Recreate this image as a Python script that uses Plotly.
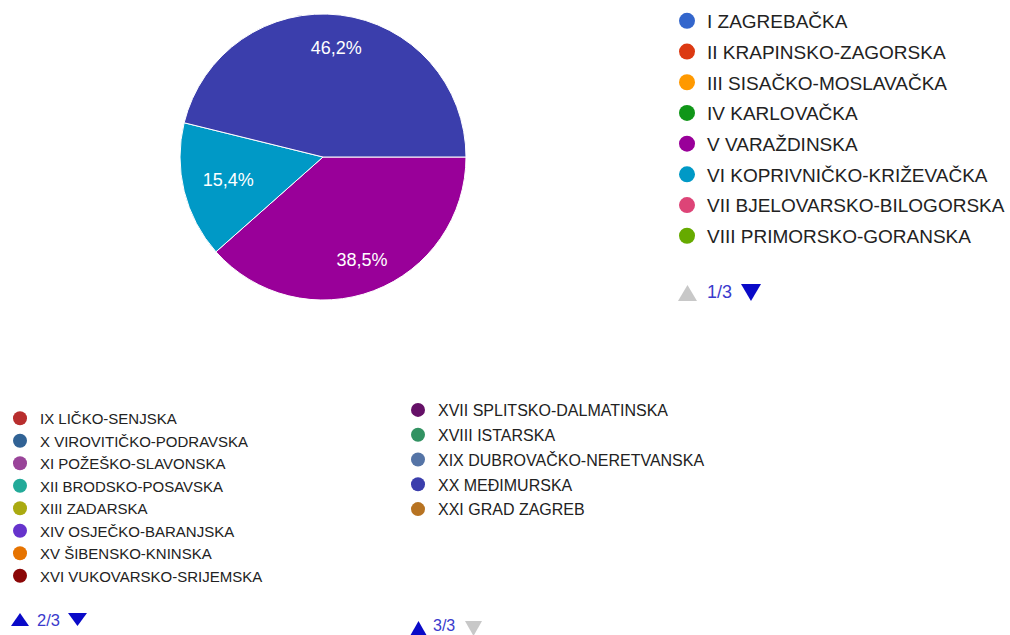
import plotly.graph_objects as go

# ---- data ----
regions = [
    "I ZAGREBAČKA", "II KRAPINSKO-ZAGORSKA", "III SISAČKO-MOSLAVAČKA", "IV KARLOVAČKA",
    "V VARAŽDINSKA", "VI KOPRIVNIČKO-KRIŽEVAČKA", "VII BJELOVARSKO-BILOGORSKA",
    "VIII PRIMORSKO-GORANSKA", "IX LIČKO-SENJSKA", "X VIROVITIČKO-PODRAVSKA",
    "XI POŽEŠKO-SLAVONSKA", "XII BRODSKO-POSAVSKA", "XIII ZADARSKA",
    "XIV OSJEČKO-BARANJSKA", "XV ŠIBENSKO-KNINSKA", "XVI VUKOVARSKO-SRIJEMSKA",
    "XVII SPLITSKO-DALMATINSKA", "XVIII ISTARSKA", "XIX DUBROVAČKO-NERETVANSKA",
    "XX MEĐIMURSKA", "XXI GRAD ZAGREB",
]
counts = [0, 0, 0, 0, 5, 2, 0, 0, 0, 0, 0, 0, 0, 0, 0, 0, 0, 0, 0, 6, 0]
colors = [
    "#3366cc", "#dc3912", "#ff9900", "#109618", "#990099", "#0099c6", "#dd4477",
    "#66aa00", "#b82e2e", "#316395", "#994499", "#22aa99", "#aaaa11", "#6633cc",
    "#e67300", "#8b0707", "#651067", "#329262", "#5574a6", "#3b3eac", "#b77322",
]
page_sizes = [8, 8, 5]
page_labels = ["1/3", "2/3", "3/3"]

W, H = 1010, 635
FONT = "Liberation Sans, Arial, sans-serif"
BLUE = "#0a0ac8"
GREY = "#c8c8c8"
NAVTXT = "#3a3acc"

fig = go.Figure()

# ---- pie ----
pie_labels = [r for r, c in zip(regions, counts) if c > 0]
pie_values = [c for c in counts if c > 0]
pie_colors = [col for col, c in zip(colors, counts) if c > 0]
total = sum(pie_values)
big = [v / total > 0.25 for v in pie_values]
cx, cy, rad = 323, 157, 143
dom = dict(x=[(cx - rad) / W, (cx + rad) / W], y=[1 - (cy + rad) / H, 1 - (cy - rad) / H])
common = dict(labels=pie_labels, values=pie_values, sort=False, direction="clockwise",
              rotation=90, textposition="inside", insidetextorientation="horizontal",
              textfont=dict(color="white", size=18, family=FONT), showlegend=False,
              domain=dom)
# base pie: slices + label of the small slice
fig.add_trace(go.Pie(
    **common,
    marker=dict(colors=pie_colors, line=dict(color="white", width=1)),
    texttemplate=["" if b else "%{percent:.1%}" for b in big],
    hoverinfo="label+percent",
))
# transparent overlay: labels of the large slices, pushed outward
fig.add_trace(go.Pie(
    **common, hole=0.54,
    marker=dict(colors=["rgba(0,0,0,0)"] * len(pie_values), line=dict(width=0)),
    texttemplate=["%{percent:.1%}" if b else "" for b in big],
    hoverinfo="skip",
))

# ---- legend entries (paged legend) ----
legend_ids = ["legend", "legend2", "legend3"]
msizes = [16, 14, 14]
start = 0
for p, n in enumerate(page_sizes):
    for i in range(start, start + n):
        fig.add_trace(go.Scatter(
            x=[None], y=[None], mode="markers", name=regions[i],
            marker=dict(color=colors[i], size=msizes[p], symbol="circle"),
            legend=legend_ids[p], legendgroup=regions[i], showlegend=True,
            hoverinfo="skip",
        ))
    start += n

fig.update_layout(
    width=W, height=H, margin=dict(l=0, r=0, t=0, b=0),
    paper_bgcolor="white", plot_bgcolor="white",
    separators=",.",
    xaxis=dict(visible=False), yaxis=dict(visible=False),
    legend=dict(x=667 / W, y=1 - 2 / H, xanchor="left", yanchor="top",
                font=dict(size=19, family=FONT, color="#222222"),
                tracegroupgap=3, bgcolor="rgba(0,0,0,0)", itemclick=False),
    legend2=dict(x=0 / W, y=1 - 402 / H, xanchor="left", yanchor="top",
                 font=dict(size=15, family=FONT, color="#222222"),
                 tracegroupgap=0, bgcolor="rgba(0,0,0,0)", itemclick=False),
    legend3=dict(x=398 / W, y=1 - 393 / H, xanchor="left", yanchor="top",
                 font=dict(size=16, family=FONT, color="#222222"),
                 tracegroupgap=1, bgcolor="rgba(0,0,0,0)", itemclick=False),
)


# ---- page navigation indicators ----
def px(x):
    return x / W


def py(y):
    return 1 - y / H


def tri(x0, x1, y0, y1, up, color):
    xm = (x0 + x1) / 2
    if up:
        pts = [(x0, y1), (x1, y1), (xm, y0)]
    else:
        pts = [(x0, y0), (x1, y0), (xm, y1)]
    path = "M " + " L ".join(f"{px(a):.5f},{py(b):.5f}" for a, b in pts) + " Z"
    fig.add_shape(type="path", path=path, xref="paper", yref="paper",
                  fillcolor=color, line=dict(width=0), layer="above")


nav = [
    # up triangle box, text x / y / size / anchor, down triangle box, colours
    dict(up=(678, 697, 285, 301), tx=706, ty=292, ya="middle", ts=18, dn=(741, 761, 284, 301), cu=GREY, cd=BLUE),
    dict(up=(11, 29, 613, 626), tx=36, ty=619.5, ya="middle", ts=16.5, dn=(68, 87, 613, 626), cu=BLUE, cd=BLUE),
    dict(up=(410, 427, 621, 636), tx=432, ty=635, ya="bottom", ts=16, dn=(465, 482, 621, 636), cu=BLUE, cd=GREY),
]
for nv, lab in zip(nav, page_labels):
    tri(*nv["up"], True, nv["cu"])
    tri(*nv["dn"], False, nv["cd"])
    fig.add_annotation(x=px(nv["tx"]), y=py(nv["ty"]), xref="paper", yref="paper",
                       text=lab, showarrow=False, xanchor="left", yanchor=nv["ya"],
                       borderpad=0, font=dict(size=nv["ts"], color=NAVTXT, family=FONT))

fig.write_html("out.html")
